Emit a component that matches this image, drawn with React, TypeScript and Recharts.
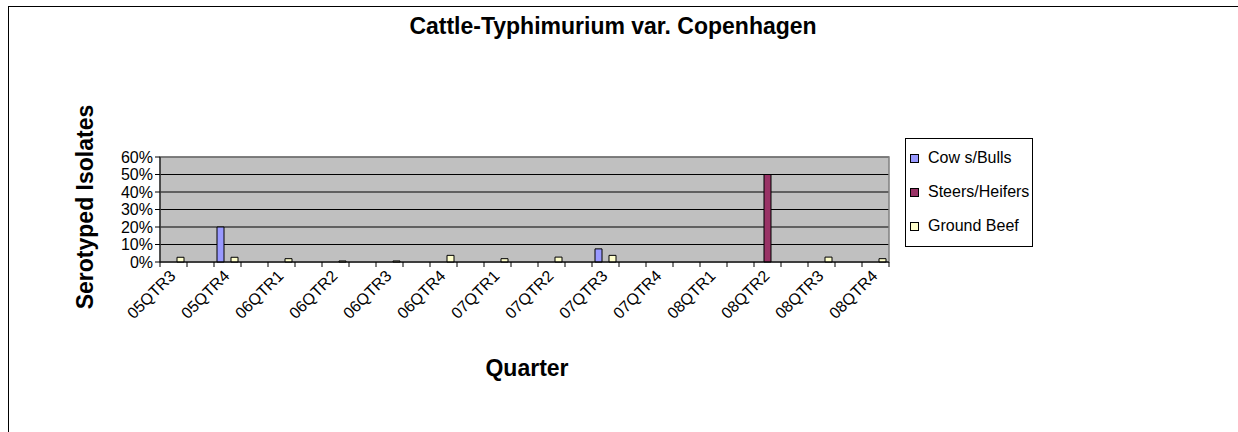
import { BarChart, Bar, XAxis, YAxis, CartesianGrid, ReferenceArea } from 'recharts';

const quarters = [
    '05QTR3', '05QTR4', '06QTR1', '06QTR2', '06QTR3', '06QTR4', '07QTR1',
    '07QTR2', '07QTR3', '07QTR4', '08QTR1', '08QTR2', '08QTR3', '08QTR4',
];
// percent of serotyped isolates
const cowsBulls = [null, 20, null, null, null, null, null, null, 7.5, null, null, null, null, null];
const steersHeifers = [null, null, null, null, null, null, null, null, null, null, null, 50, null, null];
const groundBeef = [2.7, 2.7, 1.9, 0.6, 0.6, 3.8, 1.9, 2.8, 3.8, null, null, null, 2.8, 1.9];
const yTicks = [0, 10, 20, 30, 40, 50, 60];

const series = [
    { key: 'cows', name: 'Cow s/Bulls', color: '#9999FF' },
    { key: 'steers', name: 'Steers/Heifers', color: '#993366' },
    { key: 'ground', name: 'Ground Beef', color: '#FFFFCC' },
];

// Excel left an empty slot between each quarter
const data = quarters.flatMap((q, i) => {
    const row = { name: q, cows: cowsBulls[i], steers: steersHeifers[i], ground: groundBeef[i] };
    return i < quarters.length - 1 ? [row, { name: '' }] : [row];
});

const FONT = '"Liberation Sans", Arial, sans-serif';
const PLOT_W = 729;
const BAND = PLOT_W / data.length;

function QuarterTick(props: any) {
    const { x, y, payload, index } = props;
    const last = index === data.length - 1;
    const tx = x + 3;
    const ty = y + 15;
    return (
        <g>
            <line x1={x - BAND / 2} y1={y} x2={x - BAND / 2} y2={y + 5} stroke="#000" />
            {last && <line x1={x + BAND / 2} y1={y} x2={x + BAND / 2} y2={y + 5} stroke="#000" />}
            {payload.value && (
                <text
                    x={tx}
                    y={ty}
                    textAnchor="end"
                    transform={`rotate(-45, ${tx}, ${ty})`}
                    fontSize={16}
                    fontFamily={FONT}
                    fill="#000"
                >
                    {payload.value}
                </text>
            )}
        </g>
    );
}

export default function App() {
    return (
        <div style={{ position: 'absolute', left: 8, top: 6, width: 1240, height: 440, border: '1px solid #000', background: '#fff', fontFamily: FONT }}>
            <style>{'body{overflow:hidden}'}</style>
            <div style={{ position: 'absolute', left: 604, top: 19, transform: 'translate(-50%, -50%)', fontWeight: 'bold', fontSize: 23, whiteSpace: 'nowrap' }}>
                Cattle-Typhimurium var. Copenhagen
            </div>
            <div style={{ position: 'absolute', left: 76, top: 200, transform: 'translate(-50%, -50%) rotate(-90deg)', fontWeight: 'bold', fontSize: 23, whiteSpace: 'nowrap' }}>
                Serotyped Isolates
            </div>
            <div style={{ position: 'absolute', left: 518, top: 361, transform: 'translate(-50%, -50%)', fontWeight: 'bold', fontSize: 23 }}>
                Quarter
            </div>
            <div style={{ position: 'absolute', left: 896, top: 131, width: 122, border: '1px solid #000', background: '#fff', padding: '2px 0 3px 4px', fontSize: 16 }}>
                {series.map((s) => (
                    <div key={s.key} style={{ display: 'flex', alignItems: 'center', height: 34 }}>
                        <span style={{ width: 7, height: 7, border: '1px solid #000', background: s.color, marginRight: 9, flexShrink: 0 }} />
                        <span style={{ whiteSpace: 'nowrap' }}>{s.name}</span>
                    </div>
                ))}
            </div>
            <BarChart
                width={1238}
                height={430}
                data={data}
                margin={{ top: 150, right: 358, left: 91, bottom: 95 }}
                barSize={7}
                barGap={0}
            >
                <CartesianGrid vertical={false} stroke="#000" fill="#C0C0C0" fillOpacity={1} />
                <ReferenceArea y1={0} y2={60} fill="none" stroke="#808080" strokeWidth={1.5} />
                <XAxis
                    dataKey="name"
                    interval={0}
                    height={80}
                    tickSize={0}
                    tickMargin={0}
                    tickLine={false}
                    axisLine={{ stroke: '#000' }}
                    tick={<QuarterTick />}
                />
                <YAxis
                    width={60}
                    domain={[0, 60]}
                    ticks={yTicks}
                    interval={0}
                    tickFormatter={(v) => `${v}%`}
                    tickSize={5}
                    tickMargin={2}
                    tickLine={{ stroke: '#000' }}
                    axisLine={{ stroke: '#000' }}
                    tick={{ fill: '#000', fontSize: 16, fontFamily: FONT }}
                />
                {series.map((s) => (
                    <Bar
                        key={s.key}
                        dataKey={s.key}
                        name={s.name}
                        fill={s.color}
                        stroke="#000"
                        strokeWidth={1}
                        isAnimationActive={false}
                    />
                ))}
            </BarChart>
        </div>
    );
}
